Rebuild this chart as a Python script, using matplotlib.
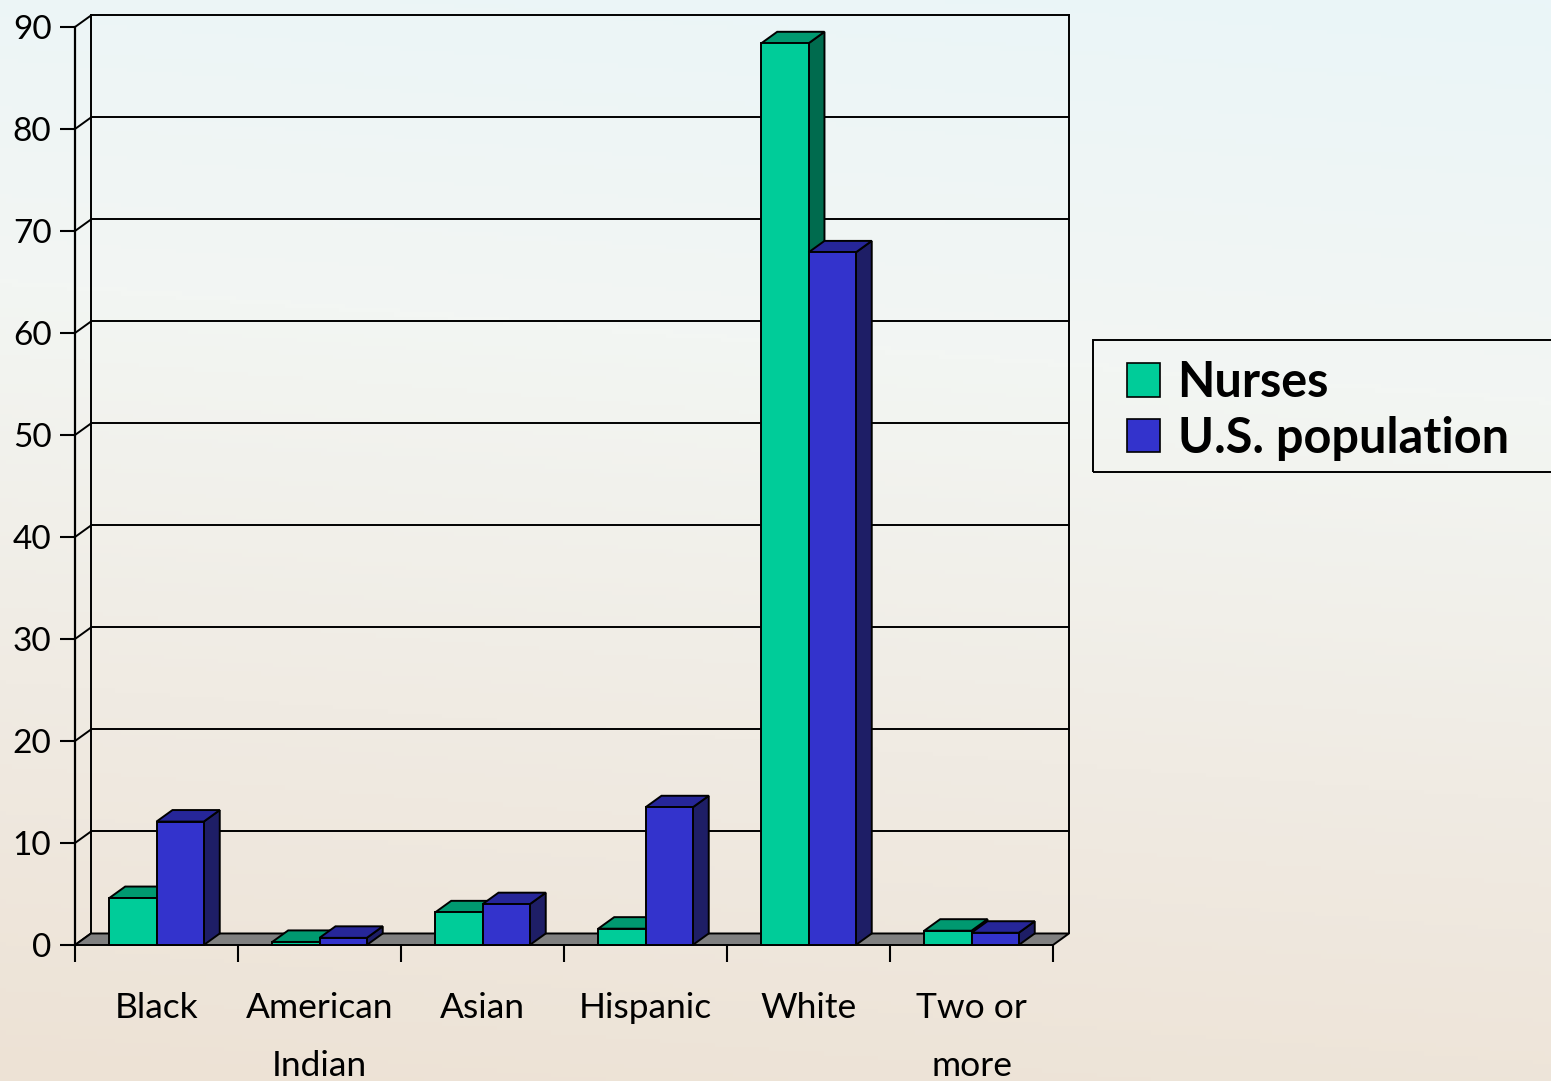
import numpy as np
import matplotlib
matplotlib.use("Agg")
import matplotlib.pyplot as plt
from matplotlib.patches import Polygon, Rectangle, Patch
from matplotlib.colors import LinearSegmentedColormap

# ---- data ----
categories = ["Black", "American\nIndian", "Asian", "Hispanic", "White", "Two or\nmore"]
series_names = ["Nurses", "U.S. population"]
nurses = [4.6, 0.3, 3.2, 1.6, 88.4, 1.4]
us_population = [12.1, 0.7, 4.0, 13.5, 67.9, 1.2]
y_ticks = [0, 10, 20, 30, 40, 50, 60, 70, 80, 90]

# ---- style ----
front_colors = ["#00CC99", "#3333CC"]
top_colors = ["#009970", "#262699"]
side_colors = ["#006B4E", "#1E1E66"]
plt.rcParams['font.family'] = ['Lato', 'DejaVu Sans']

W, H = 1551, 1081
fig = plt.figure(figsize=(W / 100, H / 100), dpi=100)

# background gradient
bg = fig.add_axes([0, 0, 1, 1], zorder=-10)
bg.set_axis_off()
cmap = LinearSegmentedColormap.from_list("bg", ["#eaf5f8", "#f3f6f3", "#f0ebe3", "#ede2d5"])
grad = np.linspace(0, 1, 256).reshape(-1, 1)
horiz = np.linspace(0, 1, 256).reshape(1, -1)
img = grad * 0.9 + 0.1 * (1 - horiz)
bg.imshow(img, cmap=cmap, aspect="auto", extent=[0, 1, 0, 1], origin="upper")
bg.set_xlim(0, 1); bg.set_ylim(0, 1)

# main axes: front plane
ax = fig.add_axes([75 / W, 136 / H, 978 / W, 918 / H])
ax.patch.set_alpha(0)
n = len(categories)
ax.set_xlim(0, n)
ax.set_ylim(0, 90)
dx, dy = 0.098, 1.13  # depth offset in data units

for s in ["top", "right", "bottom"]:
    ax.spines[s].set_visible(False)
ax.spines["left"].set_linewidth(1.6)

ax.set_yticks(y_ticks)
ax.set_yticklabels([str(t) for t in y_ticks], fontsize=24)
ax.tick_params(axis="y", length=11, width=1.5, pad=6)
ax.set_xticks(range(n + 1))
ax.set_xticklabels([])
ax.tick_params(axis="x", which="major", length=12.5, width=1.5)
ax.set_xticks(np.arange(n) + 0.5, minor=True)
ax.set_xticklabels(categories, minor=True, fontsize=25.5, linespacing=2.0)
ax.tick_params(axis="x", which="minor", length=0, pad=34)

lw = 1.4
# back wall gridlines and edges
for t in y_ticks[1:]:
    ax.plot([dx, n + dx], [t + dy, t + dy], color="black", lw=lw, clip_on=False, zorder=1)
for t in y_ticks:
    ax.plot([0, dx], [t, t + dy], color="black", lw=lw, clip_on=False, zorder=1)
ax.plot([dx, dx], [dy, 90 + dy], color="black", lw=lw, clip_on=False, zorder=1)
ax.plot([n + dx, n + dx], [dy, 90 + dy], color="black", lw=lw, clip_on=False, zorder=1)

# floor
floor = Polygon([[0, 0], [n, 0], [n + dx, dy], [dx, dy]], closed=True,
                facecolor="#808080", edgecolor="black", lw=lw, clip_on=False, zorder=2)
ax.add_patch(floor)

# bars
bw = 0.29
for i in range(n):
    vals = [nurses[i], us_population[i]]
    x_start = i + 0.5 - bw
    for k, v in enumerate(vals):
        x0 = x_start + k * bw
        z = 3 + k
        side = Polygon([[x0 + bw, 0], [x0 + bw + dx, dy], [x0 + bw + dx, v + dy], [x0 + bw, v]],
                       closed=True, facecolor=side_colors[k], edgecolor="black", lw=lw,
                       clip_on=False, zorder=z)
        top = Polygon([[x0, v], [x0 + bw, v], [x0 + bw + dx, v + dy], [x0 + dx, v + dy]],
                      closed=True, facecolor=top_colors[k], edgecolor="black", lw=lw,
                      clip_on=False, zorder=z)
        front = Rectangle((x0, 0), bw, v, facecolor=front_colors[k], edgecolor="black",
                          lw=lw, clip_on=False, zorder=z)
        ax.add_patch(side); ax.add_patch(top); ax.add_patch(front)

# legend
frame = Rectangle((1093 / W, (H - 472) / H), 0.32, 132 / H, transform=fig.transFigure,
                  facecolor="none", edgecolor="black", lw=1.4, clip_on=False)
fig.add_artist(frame)
handles = [Patch(facecolor=front_colors[k], edgecolor="black", lw=1.2) for k in range(2)]
fig.legend(handles, series_names, loc="upper left",
           bbox_to_anchor=(1127 / W, (H - 360) / H), frameon=False,
           prop={"family": "Lato", "weight": "bold", "size": 35},
           handlelength=0.68, handleheight=0.68, handletextpad=0.36,
           labelspacing=0.22, borderpad=0, borderaxespad=0)

fig.savefig("out.png", dpi=100)
